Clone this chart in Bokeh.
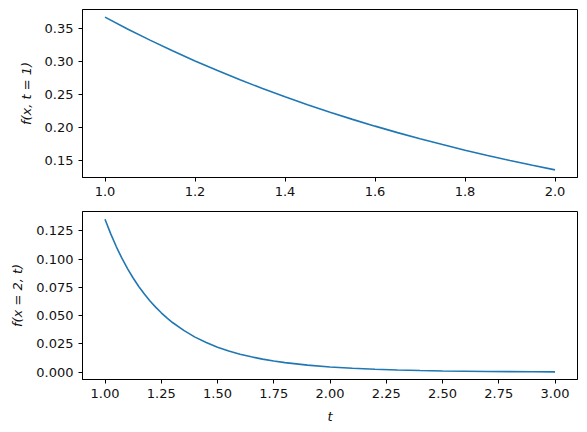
from bokeh.plotting import figure
from bokeh.layouts import column
from bokeh.models import FixedTicker, PrintfTickFormatter, Range1d
from bokeh.embed import file_html
from bokeh.resources import INLINE

# Top panel: f(x, t=1) vs x
x_vals = [1.00, 1.05, 1.10, 1.15, 1.20, 1.25, 1.30, 1.35, 1.40, 1.45, 1.50,
          1.55, 1.60, 1.65, 1.70, 1.75, 1.80, 1.85, 1.90, 1.95, 2.00]
f_x = [0.3679, 0.3499, 0.3329, 0.3166, 0.3012, 0.2865, 0.2725, 0.2592, 0.2466, 0.2346, 0.2231,
       0.2122, 0.2019, 0.1920, 0.1827, 0.1738, 0.1653, 0.1572, 0.1496, 0.1423, 0.1353]

# Bottom panel: f(x=2, t) vs t
t_vals = [1.000, 1.025, 1.050, 1.075, 1.100, 1.125, 1.150, 1.175, 1.200, 1.225, 1.250, 1.275,
          1.30, 1.35, 1.40, 1.45, 1.50, 1.55, 1.60, 1.65, 1.70, 1.75, 1.80, 1.90,
          2.00, 2.10, 2.20, 2.30, 2.40, 2.50, 2.60, 2.70, 2.80, 2.90, 3.00]
f_t = [0.1353, 0.1225, 0.1111, 0.1008, 0.0916, 0.0833, 0.0758, 0.0691, 0.0630, 0.0575, 0.0525, 0.0480,
       0.0439, 0.0369, 0.0310, 0.0262, 0.0221, 0.01875, 0.0159, 0.01355, 0.0115, 0.00986, 0.00843, 0.00620,
       0.00458, 0.00340, 0.00254, 0.00190, 0.00143, 0.00108, 0.00082, 0.00062, 0.00047, 0.00036, 0.00028]

top_xticks = [1.0, 1.2, 1.4, 1.6, 1.8, 2.0]
top_yticks = [0.15, 0.20, 0.25, 0.30, 0.35]
bot_xticks = [1.00, 1.25, 1.50, 1.75, 2.00, 2.25, 2.50, 2.75, 3.00]
bot_yticks = [0.000, 0.025, 0.050, 0.075, 0.100, 0.125]

FONT = "DejaVu Sans"
LINE = "#1f77b4"


def style(p):
    p.outline_line_color = "black"
    p.outline_line_width = 1
    p.outline_line_alpha = 1
    p.xgrid.visible = False
    p.ygrid.visible = False
    for ax in (p.xaxis[0], p.yaxis[0]):
        ax.axis_line_color = "black"
        ax.major_tick_line_color = "black"
        ax.major_tick_in = 0
        ax.major_tick_out = 4
        ax.minor_tick_line_color = None
        ax.major_label_standoff = 5
        ax.major_label_text_font = FONT
        ax.major_label_text_font_size = "13px"
        ax.major_label_text_color = "#111111"
        ax.axis_label_text_font = FONT
        ax.axis_label_text_font_size = "13px"
        ax.axis_label_text_font_style = "italic"
        ax.axis_label_text_color = "#111111"
        ax.axis_label_standoff = 8
    p.background_fill_color = "white"
    p.border_fill_color = "white"


p1 = figure(width=587, height=203, output_backend="svg", toolbar_location=None,
            x_range=Range1d(0.95, 2.05), y_range=Range1d(0.1237, 0.3795),
            min_border_left=82, min_border_right=10, min_border_top=9, min_border_bottom=26)
p1.line(x_vals, f_x, line_color=LINE, line_width=1.6)
style(p1)
p1.xaxis[0].ticker = FixedTicker(ticks=top_xticks)
p1.xaxis[0].formatter = PrintfTickFormatter(format="%.1f")
p1.yaxis[0].ticker = FixedTicker(ticks=top_yticks)
p1.yaxis[0].formatter = PrintfTickFormatter(format="%.2f")
p1.yaxis[0].axis_label = "f(x, t = 1)"

p2 = figure(width=587, height=228, output_backend="svg", toolbar_location=None,
            x_range=Range1d(0.9, 3.1), y_range=Range1d(-0.0065, 0.1421),
            min_border_left=82, min_border_right=10, min_border_top=8, min_border_bottom=52)
p2.line(t_vals, f_t, line_color=LINE, line_width=1.6)
style(p2)
p2.xaxis[0].ticker = FixedTicker(ticks=bot_xticks)
p2.xaxis[0].formatter = PrintfTickFormatter(format="%.2f")
p2.yaxis[0].ticker = FixedTicker(ticks=bot_yticks)
p2.yaxis[0].formatter = PrintfTickFormatter(format="%.3f")
p2.yaxis[0].axis_label = "f(x = 2, t)"
p2.xaxis[0].axis_label = "t"

layout = column(p1, p2, spacing=0)
open("out.html", "w").write(file_html(layout, INLINE))
